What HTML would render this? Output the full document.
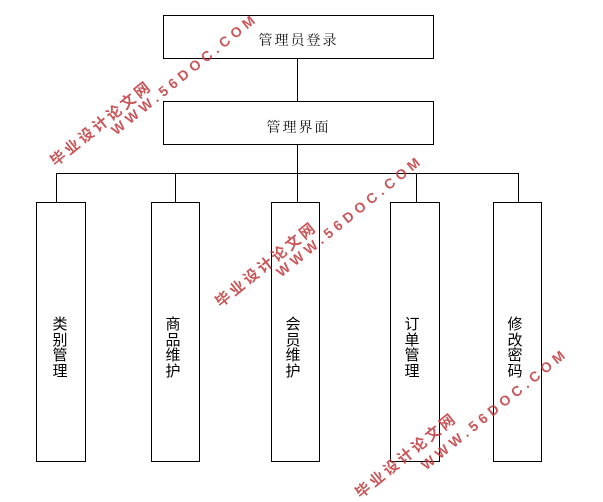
<!DOCTYPE html>
<html><head><meta charset="utf-8"><style>
body{margin:0;width:603px;height:496px;background:#fff;overflow:hidden;position:relative;font-family:"Liberation Serif","Noto Serif CJK SC",serif}
.b{position:absolute;border:1px solid #000;box-sizing:border-box;background:#fff}
.t{position:absolute;font-size:14px;letter-spacing:2px;color:#111;text-align:center}
.v{position:absolute;width:16px;font-size:15px;line-height:15.5px;font-family:"Liberation Sans","WenQuanYi Zen Hei",sans-serif;text-align:center}
.l{position:absolute;background:#000}
.w{position:absolute;color:#c0393b;font-family:"Liberation Sans","Noto Sans CJK SC",sans-serif;font-weight:bold;transform-origin:0 100%;transform:rotate(-39deg);white-space:nowrap;opacity:.85;line-height:16px}
.c{font-size:15px;letter-spacing:3px}
.u{font-size:14px;letter-spacing:4.5px}
</style></head><body>
<div class="b" style="left:163px;top:15px;width:271px;height:44px"></div>
<div class="t" style="left:163px;top:30px;width:271px">管理员登录</div>
<div class="b" style="left:163px;top:101px;width:271px;height:44px"></div>
<div class="t" style="left:163px;top:117px;width:271px">管理界面</div>
<div class="l" style="left:297px;top:59px;width:1px;height:42px"></div>
<div class="l" style="left:297px;top:145px;width:1px;height:28px"></div>
<div class="l" style="left:56px;top:173px;width:463px;height:1px"></div>
<div class="l" style="left:56px;top:173px;width:1px;height:29px"></div>
<div class="l" style="left:175px;top:173px;width:1px;height:29px"></div>
<div class="l" style="left:297px;top:173px;width:1px;height:29px"></div>
<div class="l" style="left:416px;top:173px;width:1px;height:29px"></div>
<div class="l" style="left:518px;top:173px;width:1px;height:29px"></div>
<div class="b" style="left:36px;top:202px;width:50px;height:260px"></div>
<div class="b" style="left:151px;top:202px;width:49px;height:260px"></div>
<div class="b" style="left:271px;top:202px;width:49px;height:260px"></div>
<div class="b" style="left:390px;top:202px;width:50px;height:260px"></div>
<div class="b" style="left:493px;top:202px;width:49px;height:260px"></div>
<div class="v" style="left:52px;top:317px">类别管理</div>
<div class="v" style="left:165px;top:317px">商品维护</div>
<div class="v" style="left:285px;top:317px">会员维护</div>
<div class="v" style="left:404px;top:317px">订单管理</div>
<div class="v" style="left:507px;top:317px">修改密码</div>
<div class="w c" style="left:58px;top:154px">毕业设计论文网</div>
<div class="w u" style="left:118px;top:122px">WWW.56DOC.COM</div>
<div class="w c" style="left:223px;top:295px">毕业设计论文网</div>
<div class="w u" style="left:283px;top:264px">WWW.56DOC.COM</div>
<div class="w c" style="left:363px;top:486px">毕业设计论文网</div>
<div class="w u" style="left:428px;top:457px">WWW.56DOC.COM</div>
</body></html>
